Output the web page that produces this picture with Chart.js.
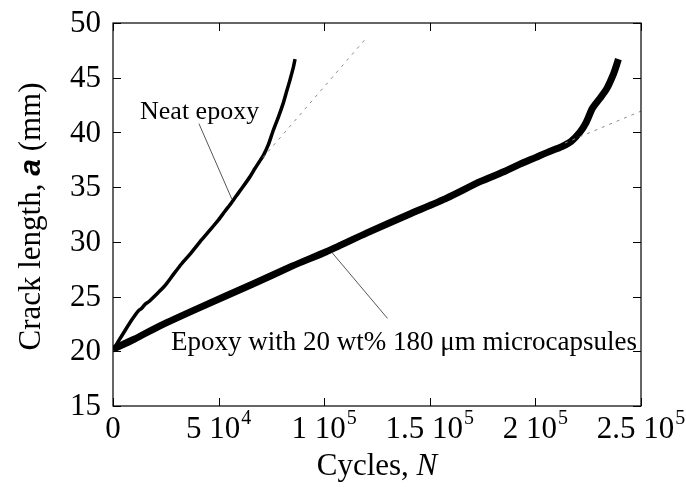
<!DOCTYPE html>
<html>
<head>
<meta charset="utf-8">
<script src="https://cdn.jsdelivr.net/npm/chart.js@4/dist/chart.umd.min.js"></script>
<style>
  html, body { margin: 0; padding: 0; background: #fff; }
  #wrap { width: 686px; height: 487px; }
</style>
</head>
<body>
<div id="wrap"><canvas id="chartCanvas" width="686" height="487"></canvas></div>
<script>
// ── Data ──
// Neat epoxy: crack length a (mm) against cycles N
var neatCycles = [0, 2500, 5700, 9000, 12000, 13500, 15200, 16700, 20500, 24600, 28500, 32500, 37000, 42000, 46000, 49900, 53000, 56200, 59500, 62500, 65000, 67200, 69200, 71200, 73600, 75900, 78300, 80650, 82300, 83800, 85200, 86200];
var neatLength = [20.1, 20.9, 21.9, 22.9, 23.7, 23.9, 24.3, 24.5, 25.2, 26.0, 27.0, 28.0, 29.0, 30.2, 31.1, 32.0, 32.8, 33.6, 34.5, 35.3, 36.0, 36.7, 37.3, 37.9, 38.9, 40.2, 41.4, 42.7, 43.8, 44.8, 45.8, 46.7];

// Epoxy with 20 wt% 180 um microcapsules
var capCycles = [0, 10000, 22000, 40000, 65700, 85000, 101000, 120000, 140000, 158000, 173800, 185000, 192700, 200000, 206000, 210000, 213000, 217000, 221000, 224000, 227000, 230500, 233800, 236900, 238500, 239300];
var capLength = [20.2, 21.1, 22.3, 23.9, 26.1, 27.8, 29.1, 30.8, 32.5, 34.0, 35.5, 36.4, 37.1, 37.7, 38.2, 38.5, 38.75, 39.2, 40.0, 40.9, 42.2, 43.1, 44.0, 45.3, 46.2, 46.7];

// dashed linear extrapolations
var neatFitCycles = [71000, 119800];
var neatFitLength = [37.7, 48.6];
var capFitCycles = [214000, 250000];
var capFitLength = [39.03, 41.95];

// label pointer lines
var neatPtrCycles = [40700, 56300];
var neatPtrLength = [40.8, 33.9];
var capPtrCycles = [103800, 130000];
var capPtrLength = [29.0, 23.0];

// axes
var xTicks = [0, 50000, 100000, 150000, 200000, 250000];
var xTickMain = ['0', '5 10', '1 10', '1.5 10', '2 10', '2.5 10'];
var xTickSup = ['', '4', '5', '5', '5', '5'];
var yTicks = [15, 20, 25, 30, 35, 40, 45, 50];

// annotation labels (anchored at data coords, left / baseline)
var neatLabel = { text: 'Neat epoxy', x: 12800, y: 41.2, size: 26 };
var capLabel = { text: 'Epoxy with 20 wt% 180 \u03bcm microcapsules', x: 27500, y: 20.1, size: 27 };

var SERIF = '"Liberation Serif", "Times New Roman", serif';

function pts(xs, ys) {
  return xs.map(function (v, i) { return { x: v, y: ys[i] }; });
}

function series(xs, ys, color, width, dash, tension) {
  return {
    data: pts(xs, ys),
    borderColor: color,
    borderWidth: width,
    borderDash: dash || [],
    pointRadius: 0,
    tension: tension || 0,
    fill: false
  };
}

// ── Frame, inward ticks and all text ──
var decor = {
  id: 'decor',
  afterDraw: function (chart) {
    var ctx = chart.ctx;
    var a = chart.chartArea;
    var xs = chart.scales.x, ys = chart.scales.y;
    var tl = 8;
    ctx.save();
    ctx.strokeStyle = '#000';
    ctx.lineWidth = 1.2;
    ctx.strokeRect(a.left, a.top, a.right - a.left, a.bottom - a.top);

    ctx.lineWidth = 1;
    ctx.beginPath();
    xTicks.forEach(function (v) {
      var px = Math.round(xs.getPixelForValue(v)) + 0.5;
      ctx.moveTo(px, a.bottom); ctx.lineTo(px, a.bottom - tl);
      ctx.moveTo(px, a.top); ctx.lineTo(px, a.top + tl);
    });
    yTicks.forEach(function (v) {
      var py = Math.round(ys.getPixelForValue(v)) + 0.5;
      ctx.moveTo(a.left, py); ctx.lineTo(a.left + tl, py);
      ctx.moveTo(a.right, py); ctx.lineTo(a.right - tl, py);
    });
    ctx.stroke();

    ctx.fillStyle = '#000';
    // y tick labels
    ctx.font = '31px ' + SERIF;
    ctx.textAlign = 'right';
    ctx.textBaseline = 'middle';
    yTicks.forEach(function (v) {
      ctx.fillText(String(v), a.left - 12, ys.getPixelForValue(v) + 1);
    });

    // x tick labels with superscript exponents
    ctx.textBaseline = 'alphabetic';
    ctx.textAlign = 'left';
    xTicks.forEach(function (v, i) {
      ctx.font = '31px ' + SERIF;
      var w1 = ctx.measureText(xTickMain[i]).width;
      ctx.font = '20px ' + SERIF;
      var w2 = xTickSup[i] ? ctx.measureText(xTickSup[i]).width + 1 : 0;
      var left = xs.getPixelForValue(v) - (w1 + w2) / 2;
      var base = a.bottom + 32;
      ctx.font = '31px ' + SERIF;
      ctx.fillText(xTickMain[i], left, base);
      if (xTickSup[i]) {
        ctx.font = '20px ' + SERIF;
        ctx.fillText(xTickSup[i], left + w1 + 1, base - 14);
      }
    });

    // x title
    ctx.font = '31px ' + SERIF;
    var t1 = 'Cycles, ';
    var wt1 = ctx.measureText(t1).width;
    ctx.font = 'italic 31px ' + SERIF;
    var wt2 = ctx.measureText('N').width;
    var cx = (a.left + a.right) / 2;
    var xl = cx - (wt1 + wt2) / 2;
    ctx.font = '31px ' + SERIF;
    ctx.fillText(t1, xl, a.bottom + 69);
    ctx.font = 'italic 31px ' + SERIF;
    ctx.fillText('N', xl + wt1, a.bottom + 69);

    // y title, rotated
    var parts = [
      { s: 'Crack length, ', f: '31px ' + SERIF },
      { s: 'a', f: 'italic bold 30px "Liberation Sans", Arial, sans-serif' },
      { s: ' (mm)', f: '31px ' + SERIF }
    ];
    var total = 0;
    parts.forEach(function (p) { ctx.font = p.f; p.w = ctx.measureText(p.s).width; total += p.w; });
    ctx.translate(40, (a.top + a.bottom) / 2 + 2);
    ctx.rotate(-Math.PI / 2);
    var pos = -total / 2;
    parts.forEach(function (p) {
      ctx.font = p.f;
      ctx.fillText(p.s, pos, 0);
      pos += p.w;
    });
    ctx.setTransform(1, 0, 0, 1, 0, 0);

    // series annotations
    [neatLabel, capLabel].forEach(function (l) {
      ctx.font = l.size + 'px ' + SERIF;
      ctx.fillText(l.text, xs.getPixelForValue(l.x), ys.getPixelForValue(l.y));
    });
    ctx.restore();
  }
};

new Chart(document.getElementById('chartCanvas').getContext('2d'), {
  type: 'line',
  data: {
    datasets: [
      series(neatFitCycles, neatFitLength, '#8a8a8a', 1, [3, 5]),
      series(capFitCycles, capFitLength, '#8a8a8a', 1, [3, 5]),
      series(neatPtrCycles, neatPtrLength, '#555', 1),
      series(capPtrCycles, capPtrLength, '#555', 1),
      series(neatCycles, neatLength, '#000', 3.5, null, 0.2),
      series(capCycles, capLength, '#000', 7, null, 0.2)
    ]
  },
  options: {
    responsive: false,
    animation: false,
    layout: { padding: { left: 113, right: 45, top: 23, bottom: 81 } },
    plugins: { legend: { display: false }, tooltip: { enabled: false } },
    scales: {
      x: { type: 'linear', min: 0, max: 250000, display: false },
      y: { type: 'linear', min: 15, max: 50, display: false }
    }
  },
  plugins: [decor]
});
</script>
</body>
</html>
